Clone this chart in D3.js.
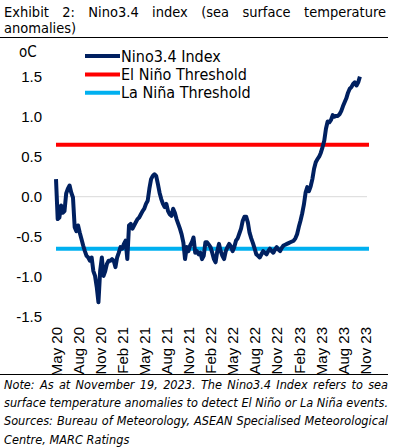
<!DOCTYPE html>
<html>
<head>
<meta charset="utf-8">
<script src="https://cdn.jsdelivr.net/npm/d3@7/dist/d3.min.js"></script>
<style>
  body { margin: 0; background: #fff; }
  svg { display: block; font-family: "DejaVu Sans Condensed", "DejaVu Sans", sans-serif; }
</style>
</head>
<body>
<svg id="chart" width="394" height="448"></svg>
<script>
// weekly Nino3.4 readings, May 2020 -> Nov 2023
const nino34 = [
  0.22, -0.28, -0.26, -0.11, -0.20, -0.18, 0.04, 0.10, 0.14, 0.05,
  -0.01, -0.38, -0.43, -0.36, -0.45, -0.53, -0.61, -0.68, -0.74, -0.76,
  -0.80, -0.76, -0.93, -0.99, -1.13, -1.32, -0.93, -0.76, -0.99, -0.93,
  -0.84, -0.80, -0.80, -0.78, -0.80, -0.88, -0.76, -0.70, -0.63, -0.65,
  -0.59, -0.55, -0.78, -0.36, -0.34, -0.40, -0.36, -0.32, -0.28, -0.26,
  -0.22, -0.18, -0.15, -0.09, -0.05, 0.10, 0.22, 0.26, 0.28, 0.26,
  0.16, 0.05, -0.03, -0.09, -0.13, -0.09, -0.18, -0.22, -0.24, -0.15,
  -0.20, -0.28, -0.34, -0.40, -0.47, -0.57, -0.78, -0.63, -0.68, -0.61,
  -0.57, -0.51, -0.70, -0.68, -0.72, -0.70, -0.78, -0.74, -0.57, -0.57,
  -0.60, -0.63, -0.70, -0.78, -0.82, -0.68, -0.59, -0.68, -0.74, -0.78,
  -0.68, -0.63, -0.59, -0.62, -0.68, -0.63, -0.55, -0.52, -0.46, -0.40,
  -0.30, -0.25, -0.25, -0.32, -0.45, -0.52, -0.58, -0.65, -0.72, -0.74,
  -0.76, -0.72, -0.68, -0.70, -0.72, -0.68, -0.65, -0.68, -0.70, -0.66,
  -0.63, -0.66, -0.68, -0.64, -0.61, -0.60, -0.59, -0.58, -0.57, -0.56,
  -0.55, -0.52, -0.47, -0.38, -0.30, -0.21, -0.10, 0.05, 0.12, 0.07,
  0.13, 0.22, 0.35, 0.43, 0.47, 0.50, 0.55, 0.62, 0.70, 0.85,
  0.94, 0.93, 0.96, 1.02, 1.00, 1.01, 1.01, 1.03, 1.07, 1.13,
  1.18, 1.23, 1.30, 1.35, 1.37, 1.41, 1.43, 1.39, 1.43, 1.50
];
const elNinoThreshold = 0.65;
const laNinaThreshold = -0.65;

const tickLabels = ['May 20', 'Aug 20', 'Nov 20', 'Feb 21', 'May 21', 'Aug 21', 'Nov 21',
  'Feb 22', 'May 22', 'Aug 22', 'Nov 22', 'Feb 23', 'May 23', 'Aug 23', 'Nov 23'];
const weeksPerTick = 13;
const yTicks = [-1.5, -1.0, -0.5, 0.0, 0.5, 1.0, 1.5];

const legendItems = [
  {name: 'Nino3.4 Index', color: '#002060'},
  {name: 'El Niño Threshold', color: '#ff0000'},
  {name: 'La Niña Threshold', color: '#00b0f0'}
];

const titleLines = [
  {text: 'Exhibit 2: Nino3.4 index (sea surface temperature', justify: true},
  {text: 'anomalies)', justify: false}
];
const noteLines = [
  {text: 'Note: As at November 19, 2023. The Nino3.4 Index refers to sea', justify: true},
  {text: 'surface temperature anomalies to detect El Niño or La Niña events.', justify: true},
  {text: 'Sources: Bureau of Meteorology, ASEAN Specialised Meteorological', justify: true},
  {text: 'Centre, MARC Ratings', justify: false}
];

const svg = d3.select('#chart');

const x = d3.scaleLinear()
  .domain([0, (tickLabels.length - 1) * weeksPerTick])
  .range([56, 365]);
const y = d3.scaleLinear()
  .domain([-1.5, 1.5])
  .range([316.7, 76.7]);

// lays words out across [x0, x1]; last lines stay ragged
function writeLine(g, line, x0, x1, yPos, style) {
  const words = line.text.split(' ');
  const nodes = words.map(w => g.append('text')
    .attr('y', yPos)
    .attr('font-size', style.size)
    .attr('font-style', style.italic ? 'italic' : 'normal')
    .attr('fill', '#000')
    .text(w));
  const widths = nodes.map(n => n.node().getComputedTextLength());
  const total = d3.sum(widths);
  const gap = line.justify && words.length > 1
    ? (x1 - x0 - total) / (words.length - 1)
    : style.size * 0.3;
  let cx = x0;
  nodes.forEach((n, i) => {
    n.attr('x', cx);
    cx += widths[i] + gap;
  });
}

const title = svg.append('g');
titleLines.forEach((l, i) => writeLine(title, l, 4, 386, 17 + i * 15.5, {size: 14.5}));
svg.append('line')
  .attr('x1', 0).attr('x2', 388)
  .attr('y1', 37.5).attr('y2', 37.5)
  .attr('stroke', '#000').attr('stroke-width', 1);

// zero gridline
svg.append('line')
  .attr('x1', 56).attr('x2', 367)
  .attr('y1', y(0)).attr('y2', y(0))
  .attr('stroke', '#d9d9d9').attr('stroke-width', 1);

// y axis labels
const yAxis = svg.append('g')
  .attr('transform', 'translate(50,0)')
  .call(d3.axisLeft(y).tickValues(yTicks).tickFormat(d3.format('.1f')).tickSize(0).tickPadding(8));
yAxis.select('.domain').remove();
yAxis.selectAll('text')
  .attr('font-family', null)
  .attr('font-size', 15)
  .attr('fill', '#000')
  .text(d => d3.format('.1f')(d).replace('−', '-'));

svg.append('text')
  .attr('x', 19).attr('y', 57)
  .attr('font-size', 15)
  .text('oC');

// x axis labels
const xAxis = svg.append('g')
  .attr('transform', `translate(0,${325})`)
  .call(d3.axisBottom(x)
    .tickValues(tickLabels.map((d, i) => i * weeksPerTick))
    .tickFormat((d, i) => tickLabels[i])
    .tickSize(0));
xAxis.select('.domain').remove();
xAxis.selectAll('text')
  .attr('font-family', null)
  .attr('font-size', 15)
  .attr('fill', '#000')
  .attr('text-anchor', 'end')
  .attr('transform', 'rotate(-90)')
  .attr('x', -2)
  .attr('y', 0)
  .attr('dy', '0.35em');

// threshold lines
svg.append('line')
  .attr('x1', 56).attr('x2', 369)
  .attr('y1', y(elNinoThreshold)).attr('y2', y(elNinoThreshold))
  .attr('stroke', legendItems[1].color).attr('stroke-width', 4);
svg.append('line')
  .attr('x1', 56).attr('x2', 369)
  .attr('y1', y(laNinaThreshold)).attr('y2', y(laNinaThreshold))
  .attr('stroke', legendItems[2].color).attr('stroke-width', 4);

// index line
svg.append('path')
  .datum(nino34)
  .attr('fill', 'none')
  .attr('stroke', legendItems[0].color)
  .attr('stroke-width', 4)
  .attr('stroke-linejoin', 'round')
  .attr('d', d3.line().x((d, i) => x(i)).y(d => y(d)));

// legend
const legend = svg.append('g');
legendItems.forEach((item, i) => {
  const ly = 56 + i * 18.4;
  legend.append('line')
    .attr('x1', 85).attr('x2', 120)
    .attr('y1', ly).attr('y2', ly)
    .attr('stroke', item.color).attr('stroke-width', 4);
  legend.append('text')
    .attr('x', 121).attr('y', ly)
    .attr('dy', '0.35em')
    .attr('font-size', 16)
    .text(item.name);
});

// footer
svg.append('line')
  .attr('x1', 0).attr('x2', 388)
  .attr('y1', 374.5).attr('y2', 374.5)
  .attr('stroke', '#000').attr('stroke-width', 1);
const notes = svg.append('g');
noteLines.forEach((l, i) => writeLine(notes, l, 4, 388, 389 + i * 18.2, {size: 12.6, italic: true}));
</script>
</body>
</html>
